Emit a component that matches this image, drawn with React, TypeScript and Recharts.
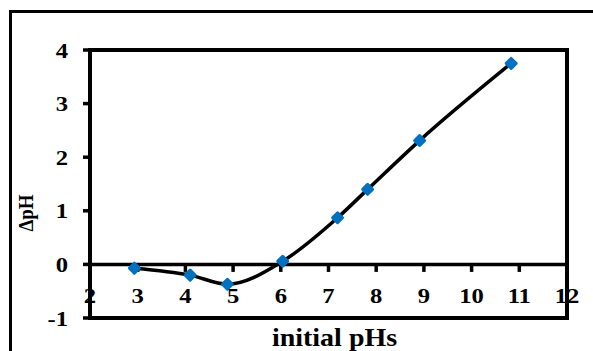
import React from 'react';
import {
  LineChart,
  Line,
  XAxis,
  YAxis,
  ReferenceLine,
  ReferenceArea,
} from 'recharts';

const INITIAL_PH = [2.93, 4.1, 4.88, 6.04, 7.19, 7.82, 8.91, 10.83];
const DELTA_PH = [-0.07, -0.2, -0.37, 0.06, 0.87, 1.4, 2.31, 3.75];
const X_TICKS = [2, 3, 4, 5, 6, 7, 8, 9, 10, 11, 12];
const Y_TICKS = [-1, 0, 1, 2, 3, 4];

const data = INITIAL_PH.map((x, i) => ({ x, y: DELTA_PH[i] }));

const FONT = '"Times New Roman", "Liberation Serif", serif';
// the source picture is a bit wider than tall, so stretch the text a little
const SX = 1.12;

function Diamond(props: any) {
  const { cx, cy } = props;
  if (cx == null || cy == null) return null;
  return (
    <rect
      x={cx - 5}
      y={cy - 5}
      width={10}
      height={10}
      rx={1.5}
      fill="#0070C0"
      transform={`rotate(45 ${cx} ${cy})`}
    />
  );
}

function XTick(props: any) {
  const { x, y, payload } = props;
  return (
    <text
      transform={`translate(${x} ${y - 15}) scale(${SX} 1)`}
      textAnchor="middle"
      fontFamily={FONT}
      fontWeight="bold"
      fontSize={22}
      fill="#000"
    >
      {payload.value}
    </text>
  );
}

function YTick(props: any) {
  const { x, y, payload } = props;
  return (
    <g>
      <line x1={x + 6} x2={x + 13} y1={y} y2={y} stroke="#000" strokeWidth={3.5} />
      <text
        transform={`translate(${x - 9} ${y + 7.5}) scale(${SX} 1)`}
        textAnchor="end"
        fontFamily={FONT}
        fontWeight="bold"
        fontSize={22}
        fill="#000"
      >
        {payload.value}
      </text>
    </g>
  );
}

function YLabel(props: any) {
  const { viewBox } = props;
  const cx = 33;
  const cy = viewBox.y + viewBox.height / 2 + 29;
  return (
    <text
      transform={`translate(${cx} ${cy}) rotate(-90) scale(1 ${SX})`}
      textAnchor="middle"
      fontFamily={FONT}
      fontWeight="bold"
      fontSize={19}
      fill="#000"
    >
      ΔpH
    </text>
  );
}

function XLabel(props: any) {
  const { viewBox } = props;
  return (
    <text
      transform={`translate(${viewBox.x + viewBox.width / 2 + 6} ${viewBox.y + viewBox.height - 5}) scale(${SX} 1)`}
      textAnchor="middle"
      fontFamily={FONT}
      fontWeight="bold"
      fontSize={25}
      fill="#000"
    >
      initial pHs
    </text>
  );
}

export default function App() {
  return (
    <div style={{ position: 'absolute', left: 0, top: 0, width: 593, height: 351, overflow: 'hidden', background: '#fff' }}>
      <div
        style={{
          position: 'absolute',
          left: 9,
          top: 10,
          width: 620,
          height: 400,
          borderLeft: '3.5px solid #000',
          borderTop: '3px solid #000',
        }}
      />
      <div style={{ position: 'absolute', left: 0, top: 0 }}>
        <LineChart width={593} height={351} data={data} margin={{ top: 50, right: 26, bottom: 0, left: 0 }}>
          <XAxis
            dataKey="x"
            type="number"
            domain={[2, 12]}
            ticks={X_TICKS}
            height={33}
            tickSize={0}
            tickMargin={0}
            tick={<XTick />}
            tickLine={false}
            axisLine={false}
            label={<XLabel />}
          />
          <YAxis
            type="number"
            domain={[-1, 4]}
            ticks={Y_TICKS}
            width={90}
            tickSize={7}
            tickMargin={6}
            tickLine={false}
            axisLine={false}
            tick={<YTick />}
            label={<YLabel />}
          />
          <ReferenceLine y={0} stroke="#000" strokeWidth={3.5} />
          {X_TICKS.map((t) => (
            <ReferenceLine
              key={t}
              segment={[{ x: t, y: 0 }, { x: t, y: -0.14 }]}
              stroke="#000"
              strokeWidth={3.5}
            />
          ))}
          <ReferenceArea
            x1={2}
            x2={12}
            y1={-1}
            y2={4}
            ifOverflow="visible"
            fill="none"
            fillOpacity={0}
            stroke="#000"
            strokeWidth={4}
            strokeOpacity={1}
          />
          <Line
            type="monotone"
            dataKey="y"
            stroke="#000"
            strokeWidth={3.5}
            dot={<Diamond />}
            activeDot={false}
            isAnimationActive={false}
          />
        </LineChart>
      </div>
    </div>
  );
}
